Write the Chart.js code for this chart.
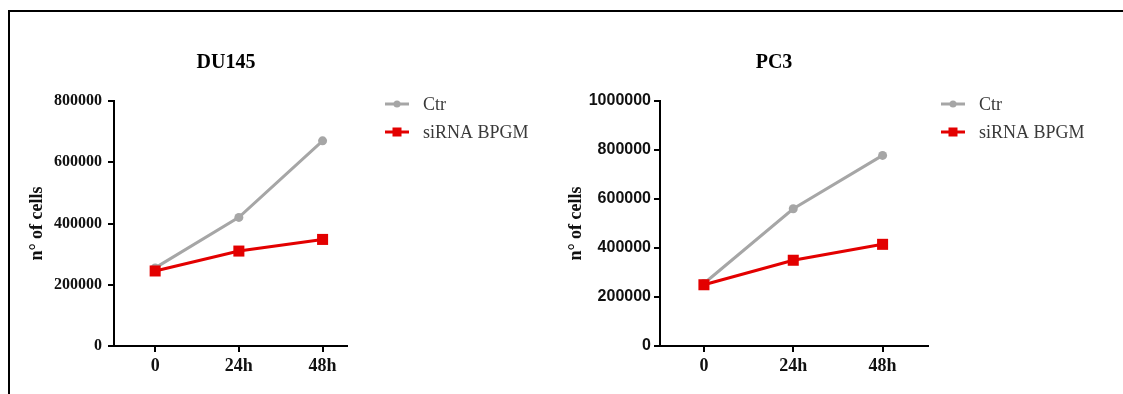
<!DOCTYPE html>
<html>
<head>
<meta charset="utf-8">
<script src="https://cdn.jsdelivr.net/npm/chart.js@4/dist/chart.umd.min.js"></script>
<style>
  html, body { margin: 0; padding: 0; background: #fff; width: 1123px; height: 394px; overflow: hidden; }
  #frame { position: absolute; left: 8px; top: 10px; width: 1200px; height: 500px;
           border-top: 2px solid #000; border-left: 2px solid #000; }
  canvas { position: absolute; top: 0; }
  #c1 { left: 0; }
  #c2 { left: 560px; }
</style>
</head>
<body>
<div id="frame"></div>
<canvas id="c1" width="560" height="394"></canvas>
<canvas id="c2" width="563" height="394"></canvas>
<script>
// ---- data ----
const timepoints = [0, 24, 48];
const timeLabels = ['0', '24h', '48h'];
const seriesNames = ['Ctr', 'siRNA BPGM'];

const du145Ctr = [255000, 420000, 670000];
const du145Si  = [245000, 310000, 348000];
const du145YTicks = [0, 200000, 400000, 600000, 800000];

const pc3Ctr = [255000, 560000, 778000];
const pc3Si  = [250000, 350000, 415000];
const pc3YTicks = [0, 200000, 400000, 600000, 800000, 1000000];

const titles = ['DU145', 'PC3'];
const yTitle = 'n\u00b0 of cells';

// ---- styling ----
const SERIF = "'Liberation Serif', 'Times New Roman', serif";
const SANS = "'Liberation Sans', Arial, sans-serif";
const GRAY = '#a6a6a6';
const RED = '#e30000';

// custom plugin: title + line-with-marker legend
const decor = {
  id: 'decor',
  afterDraw(chart, args, opts) {
    const ctx = chart.ctx;
    ctx.save();
    ctx.fillStyle = '#000';
    ctx.font = 'bold 20px ' + SERIF;
    ctx.textAlign = 'center';
    ctx.textBaseline = 'middle';
    ctx.fillText(opts.title, opts.titleX, opts.titleY);
    chart.data.datasets.forEach((ds, i) => {
      const y = opts.legendY + i * opts.legendGap;
      ctx.strokeStyle = ds.borderColor;
      ctx.lineWidth = 3;
      ctx.beginPath();
      ctx.moveTo(opts.legendX, y);
      ctx.lineTo(opts.legendX + 24, y);
      ctx.stroke();
      ctx.fillStyle = ds.backgroundColor;
      if (ds.pointStyle === 'rect') {
        ctx.fillRect(opts.legendX + 12 - 4.5, y - 4.5, 9, 9);
      } else {
        ctx.beginPath();
        ctx.arc(opts.legendX + 12, y, 3.5, 0, Math.PI * 2);
        ctx.fill();
      }
      ctx.fillStyle = '#3a3a3a';
      ctx.font = '18px ' + SERIF;
      ctx.textAlign = 'left';
      ctx.textBaseline = 'middle';
      ctx.fillText(ds.label, opts.legendX + 38, y + 1);
    });
    ctx.restore();
  }
};

function makeChart(id, ctrData, siData, yTicks, xMin, xMax, cfg) {
  const yMax = yTicks[yTicks.length - 1];
  return new Chart(document.getElementById(id), {
    type: 'line',
    data: {
      datasets: [
        {
          label: seriesNames[0],
          data: timepoints.map((t, i) => ({ x: t, y: ctrData[i] })),
          borderColor: GRAY, backgroundColor: GRAY,
          borderWidth: 3, pointStyle: 'circle', pointRadius: 4.5,
          pointBorderWidth: 0, order: 1
        },
        {
          label: seriesNames[1],
          data: timepoints.map((t, i) => ({ x: t, y: siData[i] })),
          borderColor: RED, backgroundColor: RED,
          borderWidth: 3, pointStyle: 'rect', pointRadius: 7.8,
          pointBorderWidth: 0, order: 0
        }
      ]
    },
    options: {
      responsive: false,
      animation: false,
      devicePixelRatio: 1,
      layout: { padding: { left: 0, top: 101, right: cfg.padRight, bottom: 0 } },
      plugins: {
        legend: { display: false },
        tooltip: { enabled: false },
        decor: cfg.decor
      },
      scales: {
        x: {
          type: 'linear',
          min: xMin, max: xMax,
          afterBuildTicks: (s) => { s.ticks = timepoints.map(v => ({ value: v })); },
          afterFit: (s) => { s.height = 48; },
          ticks: {
            callback: (v) => timeLabels[timepoints.indexOf(v)],
            font: { family: SERIF, size: 18, weight: 'bold' },
            color: '#111', padding: 4, maxRotation: 0, autoSkip: false
          },
          grid: { display: true, drawOnChartArea: false, drawTicks: true, tickLength: 6, color: '#000', lineWidth: 2 },
          border: { display: true, color: '#000', width: 2 }
        },
        y: {
          min: 0, max: yMax,
          afterBuildTicks: (s) => { s.ticks = yTicks.map(v => ({ value: v })); },
          afterFit: (s) => { s.width = cfg.yWidth; },
          ticks: {
            callback: (v) => String(v),
            font: { family: cfg.yFont, size: 16, weight: 'bold' },
            color: '#111', padding: cfg.yPad
          },
          grid: { display: true, drawOnChartArea: false, drawTicks: true, tickLength: 6, color: '#000', lineWidth: 2 },
          border: { display: true, color: '#000', width: 2 },
          title: {
            display: true, text: yTitle,
            font: { family: SERIF, size: 18, weight: 'bold' },
            color: '#111', padding: { top: cfg.yTitlePad, bottom: 0 }
          }
        }
      }
    },
    plugins: [decor]
  });
}

makeChart('c1', du145Ctr, du145Si, du145YTicks, -11.8, 55, {
  padRight: 213, yWidth: 114, yFont: SERIF, yPad: 6, yTitlePad: 27,
  decor: { title: titles[0], titleX: 226, titleY: 63, legendX: 385, legendY: 104, legendGap: 28 }
});

makeChart('c2', pc3Ctr, pc3Si, pc3YTicks, -11.8, 60.2, {
  padRight: 195, yWidth: 100, yFont: SANS, yPad: 3, yTitlePad: 6,
  decor: { title: titles[1], titleX: 214, titleY: 63, legendX: 381, legendY: 104, legendGap: 28 }
});
</script>
</body>
</html>
